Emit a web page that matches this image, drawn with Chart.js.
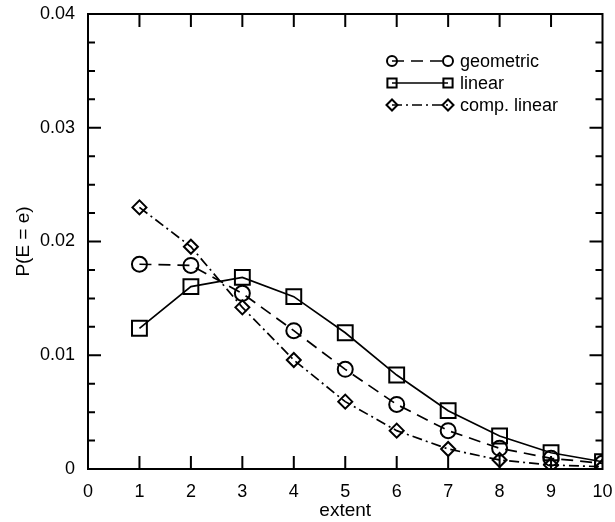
<!DOCTYPE html>
<html>
<head>
<meta charset="utf-8">
<script src="https://cdn.jsdelivr.net/npm/chart.js@4"></script>
<style>
  html, body { margin: 0; padding: 0; background: #fff; }
  #wrap { width: 615px; height: 522px; }
</style>
</head>
<body>
<div id="wrap"><canvas id="chart" width="615" height="522"></canvas></div>
<script>
const extent = [1, 2, 3, 4, 5, 6, 7, 8, 9, 10];
const geometric = [0.0180, 0.0179, 0.01544, 0.01216, 0.00876, 0.00568, 0.00337, 0.00182, 0.00094, 0.0005];
const linear = [0.01237, 0.01603, 0.01685, 0.01515, 0.01198, 0.00826, 0.00513, 0.0029, 0.00143, 0.00064];
const compLinear = [0.0230, 0.01954, 0.01421, 0.00958, 0.00592, 0.00337, 0.00176, 0.00079, 0.00035, 0.0002];
const seriesNames = ['geometric', 'linear', 'comp. linear'];

const FONT = 'Liberation Sans, Arial, Helvetica, sans-serif';

function pts(ys) {
    return extent.map((x, i) => ({ x: x, y: ys[i] }));
}

const styles = [
    { dash: [12, 7], point: 'circle', radius: 7.5, legendRadius: 5 },
    { dash: [], point: 'rect', radius: 10.5, legendRadius: 6.5 },
    { dash: [10, 4, 2, 4], point: 'rectRot', radius: 7, legendRadius: 5.5 }
];

const frameAndTicks = {
    id: 'frameAndTicks',
    afterDatasetsDraw(chart) {
        const ctx = chart.ctx;
        const a = chart.chartArea;
        const xs = chart.scales.x, ys = chart.scales.y;
        ctx.save();
        ctx.strokeStyle = '#000';
        ctx.lineWidth = 2;
        ctx.strokeRect(a.left, a.top, a.right - a.left, a.bottom - a.top);
        ctx.beginPath();
        for (let v = 1; v < 10; v++) {
            const px = xs.getPixelForValue(v);
            ctx.moveTo(px, a.bottom); ctx.lineTo(px, a.bottom - 13);
            ctx.moveTo(px, a.top); ctx.lineTo(px, a.top + 13);
        }
        for (let k = 1; k < 16; k++) {
            const v = k * 0.0025;
            const py = ys.getPixelForValue(v);
            const len = (k % 4 === 0) ? 13 : 7;
            ctx.moveTo(a.left, py); ctx.lineTo(a.left + len, py);
            ctx.moveTo(a.right, py); ctx.lineTo(a.right - len, py);
        }
        ctx.stroke();
        ctx.restore();
    }
};

const insideLegend = {
    id: 'insideLegend',
    afterDraw(chart) {
        const ctx = chart.ctx;
        const x0 = 392, x1 = 448, tx = 460;
        const rows = [61, 83, 105];
        ctx.save();
        chart.data.datasets.forEach((ds, i) => {
            const s = styles[i];
            const y = rows[i];
            ctx.strokeStyle = '#000';
            ctx.lineWidth = 1.7;
            ctx.setLineDash(s.dash);
            ctx.beginPath();
            ctx.moveTo(x0, y); ctx.lineTo(x1, y);
            ctx.stroke();
            ctx.setLineDash([]);
            ctx.lineWidth = 2;
            ctx.fillStyle = 'rgba(0,0,0,0)';
            Chart.helpers.drawPoint(ctx, { pointStyle: s.point, radius: s.legendRadius, borderWidth: 2, rotation: 0 }, x0, y);
            Chart.helpers.drawPoint(ctx, { pointStyle: s.point, radius: s.legendRadius, borderWidth: 2, rotation: 0 }, x1, y);
            ctx.fillStyle = '#000';
            ctx.font = '18px ' + FONT;
            ctx.textBaseline = 'middle';
            ctx.textAlign = 'left';
            ctx.fillText(ds.label, tx, y + 1);
        });
        ctx.restore();
    }
};

const datasets = [geometric, linear, compLinear].map((ys, i) => ({
    label: seriesNames[i],
    data: pts(ys),
    borderColor: '#000',
    borderWidth: 1.7,
    borderDash: styles[i].dash,
    backgroundColor: 'rgba(0,0,0,0)',
    pointStyle: styles[i].point,
    pointRadius: styles[i].radius,
    pointBorderWidth: 2,
    pointBorderColor: '#000',
    pointBackgroundColor: 'rgba(0,0,0,0)',
    tension: 0,
    fill: false
}));

new Chart(document.getElementById('chart').getContext('2d'), {
    type: 'line',
    data: { datasets: datasets },
    options: {
        responsive: false,
        animation: false,
        layout: { padding: { top: 14, right: 6, left: 0, bottom: 0 } },
        plugins: {
            legend: { display: false },
            tooltip: { enabled: false }
        },
        scales: {
            x: {
                type: 'linear',
                min: 0,
                max: 10,
                grid: { display: false },
                border: { display: false },
                ticks: {
                    stepSize: 1,
                    color: '#000',
                    padding: 4,
                    maxRotation: 0,
                    font: { family: FONT, size: 18 }
                },
                title: {
                    display: true,
                    text: 'extent',
                    color: '#000',
                    padding: { top: 1, bottom: 0 },
                    font: { family: FONT, size: 19 }
                },
                afterFit(scale) {
                    scale.height = 53;
                    scale.paddingLeft = 0;
                    scale.paddingRight = 0;
                }
            },
            y: {
                min: 0,
                max: 0.04,
                grid: { display: false },
                border: { display: false },
                ticks: {
                    stepSize: 0.01,
                    color: '#000',
                    padding: 5,
                    font: { family: FONT, size: 18 },
                    callback: v => (v === 0 ? '0' : Number(v).toFixed(2))
                },
                title: {
                    display: true,
                    text: 'P(E = e)',
                    color: '#000',
                    padding: { top: 12, bottom: 0 },
                    font: { family: FONT, size: 19 }
                },
                afterFit(scale) {
                    scale.width = 88;
                    scale.paddingTop = 0;
                    scale.paddingBottom = 0;
                }
            }
        }
    },
    plugins: [frameAndTicks, insideLegend]
});
</script>
</body>
</html>
